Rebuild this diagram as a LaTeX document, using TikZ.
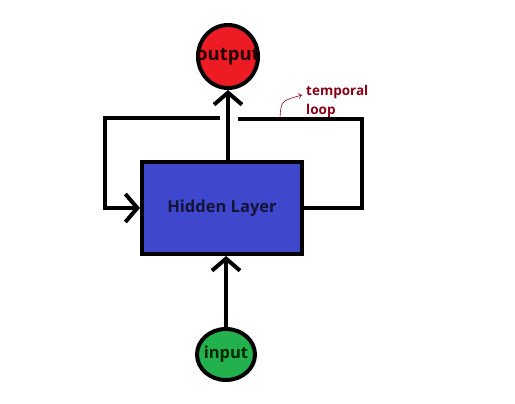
\documentclass[tikz,border=0pt]{standalone}
\usepackage{fontspec}
\setmainfont{Open Sans}
\usetikzlibrary{shapes.geometric,arrows.meta}
\definecolor{paintred}{HTML}{ED1C24}
\definecolor{paintgreen}{HTML}{22B14C}
\definecolor{paintblue}{HTML}{3F48CC}
\definecolor{paintmaroon}{HTML}{880015}
\definecolor{darknavy}{HTML}{141438}

\begin{document}
\begin{tikzpicture}[x=1pt,y=-1pt,
	thickline/.style={line width=4pt},
	barb/.style={-{Straight Barb[length=12pt,width=28pt,line width=4pt]}},
	bubble/.style={ellipse, draw, line width=4pt, inner sep=0pt, font=\bfseries\fontsize{16.5}{18}\selectfont}]
\useasboundingbox (0,0) rectangle (515,404);

\node[draw, line width=4pt, fill=paintblue, minimum width=160pt, minimum height=92pt, text=darknavy, font=\bfseries\fontsize{16.5}{18}\selectfont] (hidden) at (222,208) {Hidden Layer};
\node[bubble, fill=paintred, minimum width=60pt, minimum height=63pt, text=black!85!red, font=\bfseries\fontsize{18.5}{20}\selectfont] (output) at (228,56.5) {\makebox[0pt]{output}};
\node[bubble, fill=paintgreen, minimum width=58pt, minimum height=51pt, text=black!85!green] (input) at (226,354.5) {\makebox[0pt]{input}};
\node[align=left, anchor=west, inner sep=0pt, text=paintmaroon, font=\bfseries\fontsize{13.5}{19}\selectfont] (temporal) at (306,101) {temporal\\loop};

\coordinate (rtop) at (362,119);
\coordinate (gapR) at (238,119);
\coordinate (gapL) at (220,118);
\coordinate (ltop) at (105,118);
\coordinate (tail) at (280,118);
\coordinate (tip) at (302,95);

\draw[thickline, barb] (output.south |- hidden.north) -- (output.south);
\draw[thickline, barb] (input.north) -- (input.north |- hidden.south);
\draw[thickline] (hidden.east) -| (rtop) -- (gapR);
\draw[thickline, barb] (gapL) -- (ltop) |- (hidden.west);
\draw[paintmaroon, semithick, -{Straight Barb[length=3pt,width=5pt]}] (tail) .. controls (281,101) .. (tip);

\end{tikzpicture}
\end{document}
